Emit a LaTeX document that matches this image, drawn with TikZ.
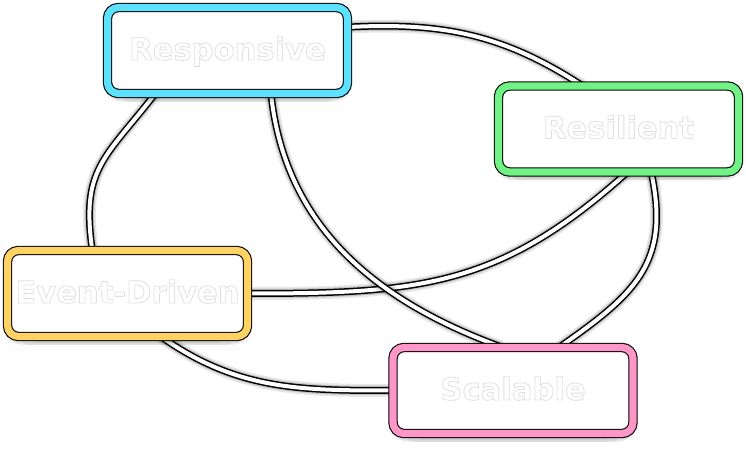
\documentclass[tikz,border=0pt]{standalone}
\usepackage{fontspec}
\setmainfont{DejaVu Sans}
\usetikzlibrary{backgrounds,shadows}

\definecolor{respcol}{RGB}{92,225,255}
\definecolor{resilcol}{RGB}{112,243,132}
\definecolor{eventcol}{RGB}{255,210,100}
\definecolor{scalcol}{RGB}{255,150,200}

\newcommand{\haloword}[1]{\textcolor{white}{%
  \special{pdf:literal direct 2 Tr 0.8 w 0.88 G}#1\special{pdf:literal direct 0 Tr 1 G}}}

\tikzset{
  trait/.style={draw=black, line width=1.1pt, double=#1, double distance=7.2pt,
    fill=white, rounded corners=11pt, minimum width=240pt, minimum height=86pt,
    inner sep=0pt, text height=25pt, text depth=6pt,
    font=\bfseries\fontsize{30.6}{36}\selectfont,
    general shadow={fill=black, opacity=.06, shadow yshift=-6pt, shadow scale=1.02},
    general shadow={fill=black, opacity=.07, shadow yshift=-10pt, shadow scale=.97},
    general shadow={fill=black, opacity=.06, shadow yshift=-14pt, shadow scale=.9},
    general shadow={fill=black, opacity=.05, shadow yshift=-17pt, shadow scale=.82}},
  link/.style={draw=black, draw opacity=.09, line width=13pt,
    preaction={draw=black, draw opacity=.15, line width=9.5pt},
    postaction={draw=black, draw opacity=1, line width=7pt},
    postaction={draw=white, draw opacity=1, line width=4pt}}
}

\begin{document}
\begin{tikzpicture}[x=1pt,y=1pt]
\useasboundingbox (0,0) rectangle (746,465);

\node[trait=respcol] (resp) at (227.5,414.5) {\haloword{Responsive}};
\node[trait=resilcol] (resil) at (618.5,336) {\haloword{Resilient}};
\node[trait=eventcol] (event) at (127.5,171.5) {\haloword{Event-Driven}};
\node[trait=scalcol] (scal) at (513,74.5) {\haloword{Scalable}};

\begin{scope}[on background layer]
\draw[link] (resp.11) to[out=3, in=147] (resil.130);
\draw[link] (resil.-53) to[out=-78, in=35, looseness=1.2] (scal.43);
\draw[link] (scal.west) to[out=180, in=-35] (event.-52);
\draw[link] (event.129) to[out=98, in=-128, looseness=1.25] (resp.211);
\draw[link] (event.east) to[out=0, in=222, looseness=1.1] (resil.-79);
\draw[link] (resp.-45) to[out=-84, in=160] (scal.105);
\end{scope}

\end{tikzpicture}
\end{document}
